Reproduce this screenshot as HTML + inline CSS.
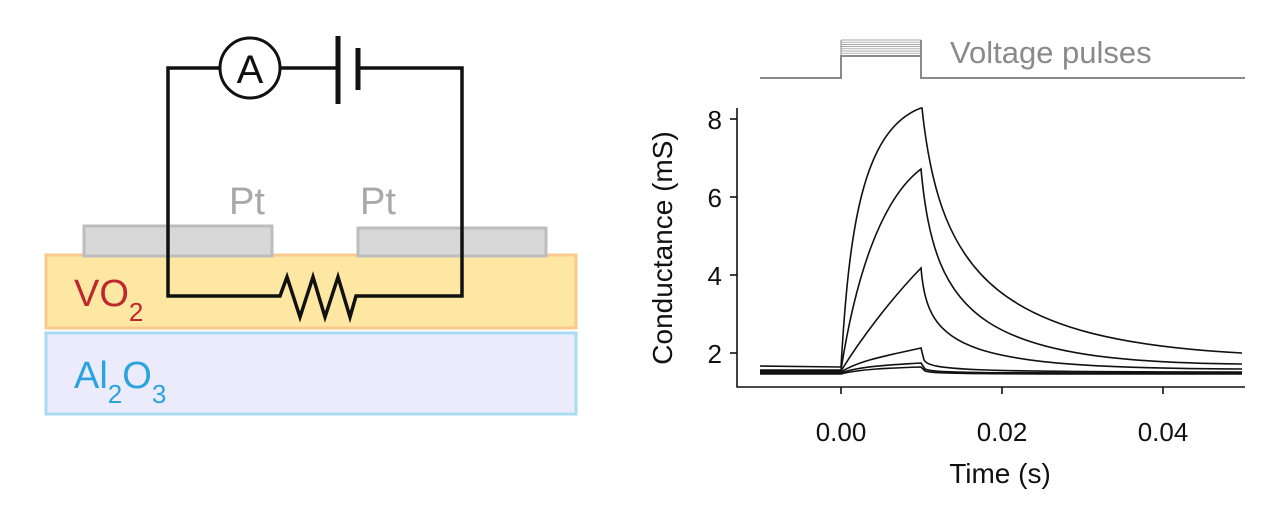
<!DOCTYPE html>
<html><head><style>
html,body{margin:0;padding:0;background:#fff;}
svg{display:block;font-family:"Liberation Sans",sans-serif;}
</style></head><body>
<svg width="1284" height="516" viewBox="0 0 1284 516">
<!-- layers -->
<rect x="46" y="333" width="530" height="81" fill="#ebebfc" stroke="#a8dcf3" stroke-width="3"/>
<rect x="46" y="255" width="530" height="73" fill="#fee7a3" stroke="#f9ca8b" stroke-width="3"/>
<rect x="84" y="226" width="188" height="30" fill="#d8d8d8" stroke="#bdbdbd" stroke-width="3"/>
<rect x="358" y="228" width="188" height="28" fill="#d8d8d8" stroke="#bdbdbd" stroke-width="3"/>
<text x="229" y="214" font-size="38" fill="#a8a8a8">Pt</text>
<text x="360" y="214" font-size="38" fill="#a8a8a8">Pt</text>
<text x="74" y="306" font-size="38" fill="#c0262d">VO<tspan font-size="26" dy="15">2</tspan></text>
<text x="74" y="388" font-size="38" fill="#2aa4dc">Al<tspan font-size="26" dy="15">2</tspan><tspan dy="-15">O</tspan><tspan font-size="26" dy="15">3</tspan></text>
<!-- circuit -->
<g fill="none" stroke="#111" stroke-width="3.5">
<polyline points="220,68 168,68 168,296 280,296 287,277 300,317 313,277 325,317 338,277 350,317 356,296 462,296 462,68 360,68"/>
<line x1="280" y1="68" x2="338" y2="68"/>
<circle cx="250" cy="68" r="30" stroke-width="3"/>
<line x1="338" y1="36" x2="338" y2="104" stroke-width="5"/>
<line x1="358" y1="48" x2="358" y2="90" stroke-width="5"/>
</g>
<text x="250" y="83" font-size="40" text-anchor="middle" fill="#111">A</text>
<!-- pulses -->
<g fill="none" stroke="#8a8a8a" stroke-width="2">
<polyline points="760,78 841,78 841,56 921,56 921,78 1245,78"/>
<path d="M841 40H921 M841 42.2H921 M841 44.4H921 M841 46.6H921 M841 48.8H921 M841 51H921 M841 53.2H921" stroke-width="0.7"/>
<line x1="841" y1="40" x2="841" y2="56" stroke-width="1"/>
<line x1="921" y1="40" x2="921" y2="56"/>
</g>
<text x="950" y="63" font-size="31" fill="#8a8a8a">Voltage pulses</text>
<!-- axes -->
<g stroke="#111" stroke-width="1.6" fill="none">
<polyline points="737,108 737,387 1245,387"/>
<line x1="737" y1="119" x2="730" y2="119"/><line x1="737" y1="197" x2="730" y2="197"/>
<line x1="737" y1="275" x2="730" y2="275"/><line x1="737" y1="353" x2="730" y2="353"/>
<line x1="841" y1="387" x2="841" y2="394"/><line x1="1002" y1="387" x2="1002" y2="394"/><line x1="1163" y1="387" x2="1163" y2="394"/>
</g>
<g font-size="26" fill="#111">
<text x="722" y="129" text-anchor="end">8</text>
<text x="722" y="207" text-anchor="end">6</text>
<text x="722" y="285" text-anchor="end">4</text>
<text x="722" y="363" text-anchor="end">2</text>
<text x="841" y="441" text-anchor="middle">0.00</text>
<text x="1002" y="441" text-anchor="middle">0.02</text>
<text x="1163" y="441" text-anchor="middle">0.04</text>
<text x="1000" y="483" text-anchor="middle" font-size="28">Time (s)</text>
<text transform="translate(672,248) rotate(-90)" text-anchor="middle" font-size="28">Conductance (mS)</text>
</g>
<!-- curves -->
<g fill="none" stroke="#111" stroke-width="1.6">
<path d="M760 366 L841 367 C849 230 862 130 921 108 L922 108 C940 280 1000 340 1242 353"/>
<path d="M760 370 L841 370 C855 280 880 200 921 169 C935 320 980 362 1242 364"/>
<path d="M760 371 L841 371 C860 340 890 300 921 268 C928 350 960 368 1242 369"/>
<path d="M760 372 L841 372 C860 360 890 355 921 348 L924 360 C930 370 960 372 1242 372"/>
<path d="M760 373 L841 373 C860 366 890 365 921 363 L925 369 C935 373 960 373 1242 373"/>
<path d="M760 374 L841 374 C860 369 890 368 921 367 L925 371 C935 374 960 374 1242 374"/>
</g>
</svg>
</body></html>
